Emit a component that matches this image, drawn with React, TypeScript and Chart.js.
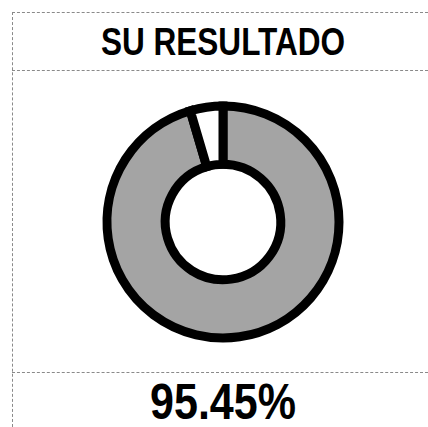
import React, { useEffect, useRef } from "react";
import { Chart, registerables } from "chart.js";

Chart.register(...registerables);

const categories: string[] = ["Correcto", "Incorrecto"];
const values: number[] = [95.45, 4.55];
const titleText = "SU RESULTADO";
const resultText = "95.45%";

const FONT = '"Liberation Sans Narrow", "Arial Narrow", "Liberation Sans", Arial, sans-serif';

export default function App() {
  const ref = useRef<HTMLCanvasElement | null>(null);

  useEffect(() => {
    document.body.style.margin = "0";
    const ctx = ref.current;
    if (!ctx) return;
    const chart = new Chart(ctx, {
      type: "doughnut",
      data: {
        labels: categories,
        datasets: [
          {
            data: values,
            backgroundColor: ["#a4a4a4", "#ffffff"],
            borderColor: "#000000",
            borderWidth: 9,
            borderJoinStyle: "miter",
            radius: 116,
            cutout: 60,
          } as any,
        ],
      },
      options: {
        responsive: false,
        animation: false,
        devicePixelRatio: 1,
        layout: { padding: 0 },
        plugins: {
          legend: { display: false },
          tooltip: { enabled: false },
          title: { display: false },
        },
      },
    });
    return () => chart.destroy();
  }, []);

  const line = "1px dashed #8a8a8a";

  return (
    <div style={{ position: "absolute", left: 0, top: 0, width: 428, height: 427, background: "#fff", overflow: "hidden" }}>
      <div style={{ position: "absolute", left: 12, top: 12, width: 416, height: 0, borderTop: line }} />
      <div style={{ position: "absolute", left: 12, top: 12, width: 0, height: 415, borderLeft: line }} />
      <div style={{ position: "absolute", left: 12, top: 70, width: 416, height: 0, borderTop: line }} />
      <div style={{ position: "absolute", left: 12, top: 372, width: 416, height: 0, borderTop: line }} />
      <div
        style={{
          position: "absolute",
          left: 12,
          width: 422,
          top: 23,
          height: 38,
          lineHeight: "38px",
          fontSize: 38,
          fontWeight: "bold",
          fontFamily: FONT,
          textAlign: "center",
          color: "#000",
          transform: "scaleX(0.83)",
          transformOrigin: "211px 50%",
        }}
      >
        {titleText}
      </div>
      <canvas ref={ref} width={250} height={250} style={{ position: "absolute", left: 98, top: 97, width: 250, height: 250 }} />
      <div
        style={{
          position: "absolute",
          left: 12,
          width: 422,
          top: 377,
          height: 50,
          lineHeight: "50px",
          fontSize: 50,
          fontWeight: "bold",
          fontFamily: FONT,
          textAlign: "center",
          color: "#000",
          transform: "scaleX(0.86)",
          transformOrigin: "211px 50%",
        }}
      >
        {resultText}
      </div>
    </div>
  );
}
